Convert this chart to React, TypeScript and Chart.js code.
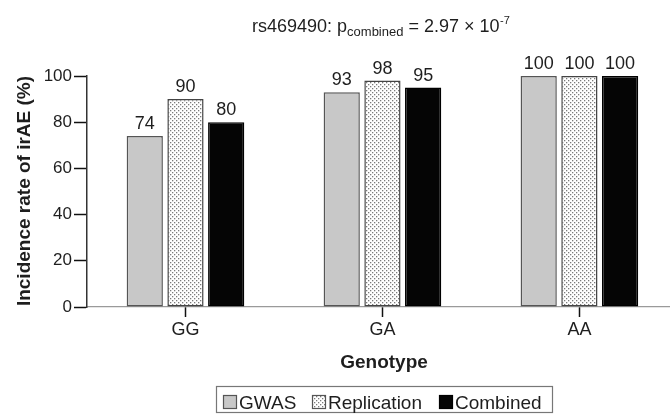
import React, { useEffect, useRef } from "react";
import { Chart, registerables } from "chart.js";

Chart.register(...registerables);

const categories = ["GG", "GA", "AA"];
const gwasValues = [74, 93, 100];
const replicationValues = [90, 98, 100];
const combinedValues = [80, 95, 100];
const yTicks = [0, 20, 40, 60, 80, 100];
const seriesNames = ["GWAS", "Replication", "Combined"];

const FONT = "'Liberation Sans', Arial, sans-serif";

function makeDotPattern(ctx: CanvasRenderingContext2D): CanvasPattern | string {
  const c = document.createElement("canvas");
  c.width = 4;
  c.height = 4;
  const p = c.getContext("2d");
  if (!p) return "#eee";
  p.fillStyle = "#ffffff";
  p.fillRect(0, 0, 4, 4);
  p.fillStyle = "#7a7a7a";
  p.fillRect(0, 0, 1.3, 1.3);
  p.fillRect(2, 2, 1.3, 1.3);
  return ctx.createPattern(c, "repeat") || "#eee";
}

export default function App() {
  const ref = useRef<HTMLCanvasElement | null>(null);

  useEffect(() => {
    const canvas = ref.current;
    if (!canvas) return;
    const ctx = canvas.getContext("2d")!;
    const dots = makeDotPattern(ctx);

    const toPts = (arr: number[]) => arr.map((v, i) => ({ x: i, y: v }));

    const textColor = "#1e1e1e";

    const annotations = {
      id: "annotations",
      afterDatasetsDraw(chart: any) {
        const c = chart.ctx as CanvasRenderingContext2D;
        c.save();
        c.fillStyle = textColor;
        c.font = `18px ${FONT}`;
        c.textAlign = "center";
        c.textBaseline = "alphabetic";
        chart.data.datasets.forEach((ds: any, di: number) => {
          const meta = chart.getDatasetMeta(di);
          meta.data.forEach((bar: any, i: number) => {
            const v = ds.data[i].y;
            c.fillText(String(v), bar.x, bar.y - 7);
          });
        });
        c.restore();
      },
      afterDraw(chart: any) {
        const c = chart.ctx as CanvasRenderingContext2D;
        c.save();
        c.fillStyle = textColor;
        // Title with sub/superscript
        const big = `18px ${FONT}`;
        const small = `13px ${FONT}`;
        const tiny = `11px ${FONT}`;
        const p1 = "rs469490: p";
        const sub = "combined";
        const p2 = " = 2.97 \u00d7 10";
        const sup = "-7";
        c.textAlign = "left";
        c.textBaseline = "alphabetic";
        let x = 252;
        const by = 32;
        c.font = big;
        c.fillText(p1, x, by);
        x += c.measureText(p1).width;
        c.font = small;
        c.fillText(sub, x, by + 4);
        x += c.measureText(sub).width;
        c.font = big;
        c.fillText(p2, x, by);
        x += c.measureText(p2).width;
        c.font = tiny;
        c.fillText(sup, x + 0.5, by - 8);

        // y-axis title
        c.save();
        c.font = `bold 19px ${FONT}`;
        c.textAlign = "center";
        c.textBaseline = "middle";
        c.translate(25, 191);
        c.rotate(-Math.PI / 2);
        c.fillText("Incidence rate of irAE (%)", 0, 0);
        c.restore();

        // x-axis title
        c.font = `bold 19px ${FONT}`;
        c.textAlign = "center";
        c.textBaseline = "alphabetic";
        c.fillText("Genotype", 384, 368);

        // legend
        const lx = 216, ly = 386, lw = 336, lh = 26;
        c.strokeStyle = "#777";
        c.lineWidth = 1.2;
        c.strokeRect(lx + 0.5, ly + 0.5, lw, lh);
        const fills: any[] = ["#c8c8c8", dots, "#050505"];
        const strokes = ["#555", "#555", "#000"];
        const itemX = [223, 312, 439];
        c.font = `19px ${FONT}`;
        c.textAlign = "left";
        c.textBaseline = "alphabetic";
        seriesNames.forEach((name, i) => {
          const sx = itemX[i];
          c.fillStyle = fills[i];
          c.fillRect(sx, 395, 14, 14);
          c.strokeStyle = strokes[i];
          c.lineWidth = 1.2;
          c.strokeRect(sx + 0.5, 395.5, 13, 13);
          c.fillStyle = textColor;
          c.fillText(name, sx + 16, 409);
        });
        c.restore();
      },
    };

    const chart = new Chart(canvas, {
      type: "bar",
      data: {
        datasets: [
          {
            label: seriesNames[0],
            data: toPts(gwasValues),
            backgroundColor: "#c8c8c8",
            borderColor: "#555555",
            borderWidth: 1.5,
            borderSkipped: false,
          },
          {
            label: seriesNames[1],
            data: toPts(replicationValues),
            backgroundColor: dots as any,
            borderColor: "#444444",
            borderWidth: 1.5,
            borderSkipped: false,
          },
          {
            label: seriesNames[2],
            data: toPts(combinedValues),
            backgroundColor: "#050505",
            borderColor: "#000000",
            borderWidth: 1.5,
            borderSkipped: false,
          },
        ],
      },
      options: {
        responsive: false,
        animation: false,
        devicePixelRatio: 1,
        layout: { padding: { top: 76, left: 0, right: 0, bottom: 0 } },
        datasets: {
          bar: { categoryPercentage: 0.62, barPercentage: 0.89 },
        },
        plugins: {
          legend: { display: false },
          title: { display: false },
          tooltip: { enabled: false },
        },
        scales: {
          x: {
            type: "linear",
            offset: false,
            min: -0.5,
            max: 2.46,
            afterBuildTicks: (scale: any) => {
              scale.ticks = categories.map((_, i) => ({ value: i }));
            },
            afterFit: (scale: any) => {
              scale.height = 414 - 307;
            },
            ticks: {
              callback: (v: any) => categories[Number(v)] ?? "",
              color: textColor,
              font: { family: FONT, size: 18 },
              padding: 2,
              maxRotation: 0,
              autoSkip: false,
            },
            grid: {
              display: true,
              offset: false,
              drawOnChartArea: false,
              drawTicks: true,
              tickLength: 10,
              tickColor: "#111",
              tickWidth: 1.5,
            },
            border: { display: true, color: "#9a9a9a", width: 1.2 },
          },
          y: {
            min: 0,
            max: 100,
            afterBuildTicks: (scale: any) => {
              scale.ticks = yTicks.map((v) => ({ value: v }));
            },
            afterFit: (scale: any) => {
              scale.width = 87;
            },
            ticks: {
              color: textColor,
              font: { family: FONT, size: 17 },
              padding: 2,
            },
            grid: {
              display: true,
              drawOnChartArea: false,
              drawTicks: true,
              tickLength: 13,
              tickColor: "#111",
              tickWidth: 1.5,
            },
            border: { display: true, color: "#333", width: 1.5 },
          },
        },
      },
      plugins: [annotations],
    } as any);

    return () => chart.destroy();
  }, []);

  return (
    <div style={{ position: "fixed", left: 0, top: 0, width: 670, height: 414, background: "#fff" }}>
      <canvas ref={ref} width={670} height={414} style={{ display: "block" }} />
    </div>
  );
}
